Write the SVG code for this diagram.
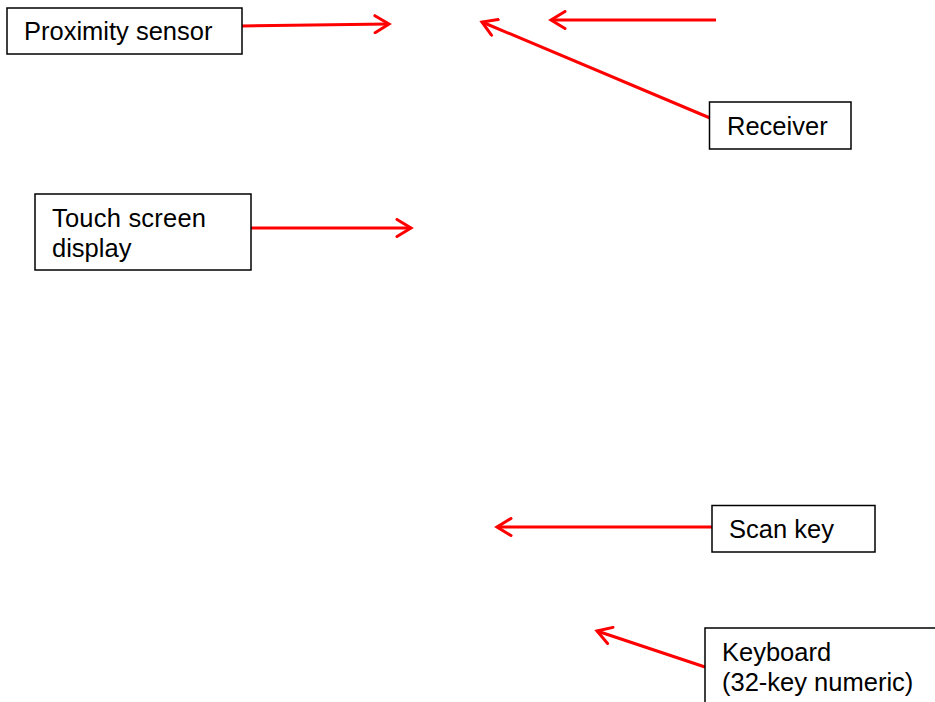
<svg xmlns="http://www.w3.org/2000/svg" width="935" height="702" viewBox="0 0 935 702">
<style>
.box{fill:#fff;stroke:#000;stroke-width:1.5}
.lbl{font-family:"Liberation Sans",Arial,sans-serif;font-size:25.5px;fill:#000}
.con{stroke:#ff0000;stroke-width:3;fill:none}
</style>
<defs>
<marker id="ah" markerUnits="userSpaceOnUse" viewBox="-16 -10 20 20" refX="0" refY="0" markerWidth="20" markerHeight="20" orient="auto">
<path d="M-14,-8.5 L0,0 L-14,8.5" fill="none" stroke="#ff0000" stroke-width="3" stroke-linecap="round" stroke-linejoin="miter"/>
</marker>
</defs>
<rect width="935" height="702" fill="#fff"/>
<g id="connectors">
<line class="con" x1="242" y1="26" x2="389" y2="24" marker-end="url(#ah)"/>
<line class="con" x1="716" y1="20" x2="551" y2="20" marker-end="url(#ah)"/>
<line class="con" x1="710" y1="118" x2="482" y2="22" marker-end="url(#ah)"/>
<line class="con" x1="251" y1="228" x2="411" y2="228" marker-end="url(#ah)"/>
<line class="con" x1="712" y1="527" x2="497" y2="527" marker-end="url(#ah)"/>
<line class="con" x1="705" y1="667" x2="597" y2="631" marker-end="url(#ah)"/>
</g>
<g id="proximity">
<rect class="box" x="7" y="8" width="235" height="46"/>
<text class="lbl" x="24" y="40">Proximity sensor</text>
</g>
<g id="receiver">
<rect class="box" x="709.5" y="102" width="141.5" height="47"/>
<text class="lbl" x="727" y="135">Receiver</text>
</g>
<g id="touch">
<rect class="box" x="35" y="194" width="216" height="76"/>
<text class="lbl" x="52" y="227" textLength="154">Touch screen</text>
<text class="lbl" x="52" y="257">display</text>
</g>
<g id="scankey">
<rect class="box" x="712" y="505.5" width="163" height="46.5"/>
<text class="lbl" x="729" y="538">Scan key</text>
</g>
<g id="keyboard">
<rect class="box" x="705" y="628" width="240" height="90"/>
<text class="lbl" x="722" y="661">Keyboard</text>
<text class="lbl" x="722" y="691">(32-key numeric)</text>
</g>
</svg>
